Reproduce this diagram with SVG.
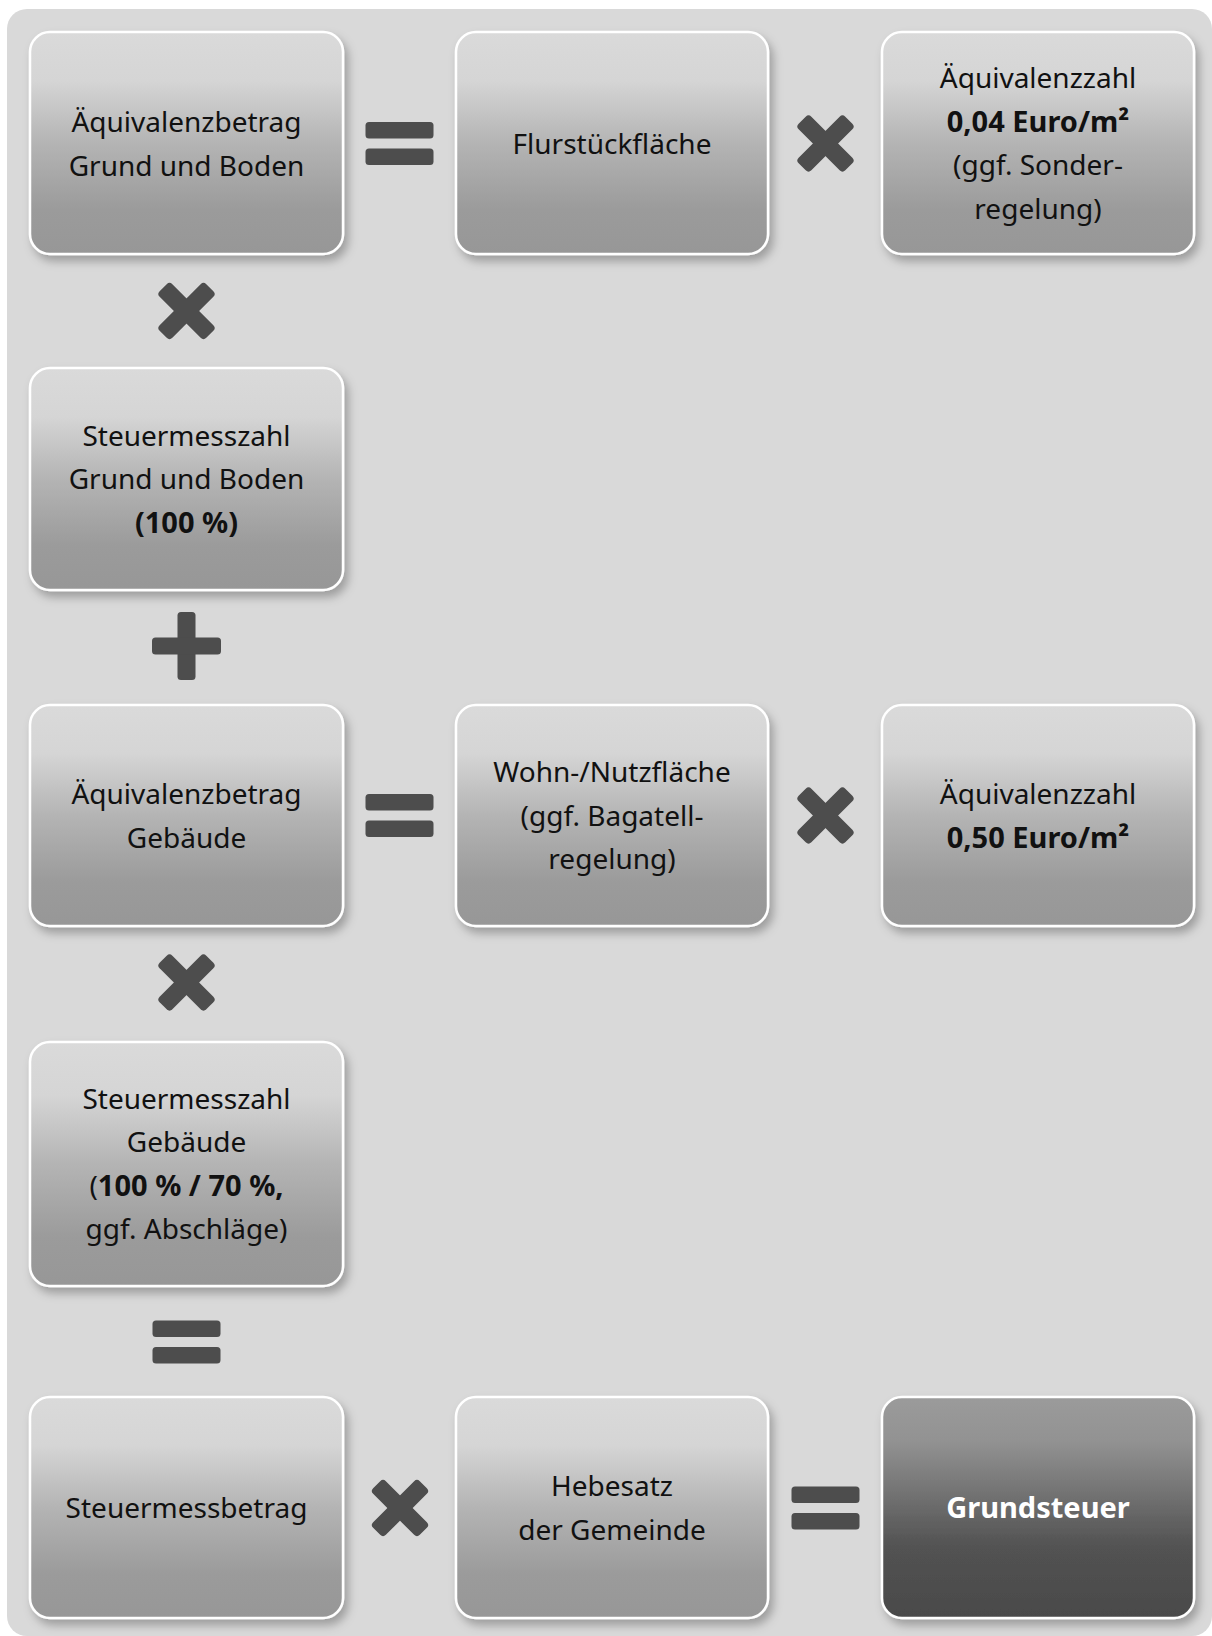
<svg xmlns="http://www.w3.org/2000/svg" width="1212" height="1636" viewBox="0 0 1212 1636">
<defs>
<linearGradient id="gBox" x1="0" y1="0" x2="0" y2="1">
<stop offset="0" stop-color="#dadada"/>
<stop offset="0.22" stop-color="#d5d5d5"/>
<stop offset="0.5" stop-color="#b4b4b4"/>
<stop offset="0.8" stop-color="#9b9b9b"/>
<stop offset="1" stop-color="#979797"/>
</linearGradient>
<linearGradient id="gDark" x1="0" y1="0" x2="0" y2="1">
<stop offset="0" stop-color="#9b9b9b"/>
<stop offset="0.2" stop-color="#929292"/>
<stop offset="0.68" stop-color="#525252"/>
<stop offset="1" stop-color="#4a4a4a"/>
</linearGradient>
<filter id="sh" x="-10%" y="-10%" width="125%" height="130%">
<feDropShadow dx="4" dy="6" stdDeviation="5" flood-color="#000" flood-opacity="0.28"/>
</filter>
<g id="xs">
<rect x="-33" y="-9" width="66" height="18" rx="4" transform="rotate(45)"/>
<rect x="-33" y="-9" width="66" height="18" rx="4" transform="rotate(-45)"/>
</g>
<g id="eq">
<rect x="-34" y="-21.5" width="68" height="16.5" rx="3.5"/>
<rect x="-34" y="5" width="68" height="16.5" rx="3.5"/>
</g>
</defs>
<style>
.box{fill:url(#gBox);stroke:#ffffff;stroke-width:2.5;filter:url(#sh)}
.dark{fill:url(#gDark);stroke:#ffffff;stroke-width:2.5;filter:url(#sh)}
text{font-family:"Noto Sans","Open Sans","Liberation Sans",sans-serif;font-size:28px;fill:#111111;text-anchor:middle}
.b{font-weight:bold;font-size:29px}
.w{fill:#ffffff;font-weight:bold;font-size:29px}
.op{fill:#4d4d4d}
</style>
<rect x="7" y="9" width="1205" height="1627" rx="20" fill="#d9d9d9"/>

<g id="n1"><rect class="box" x="30" y="32" width="313" height="222" rx="20"/>
<text x="186.5" y="132">Äquivalenzbetrag</text><text x="186.5" y="175.5">Grund und Boden</text></g>
<g id="n2"><rect class="box" x="456" y="32" width="312" height="222" rx="20"/>
<text x="612" y="153.5">Flurstückfläche</text></g>
<g id="n3"><rect class="box" x="882" y="32" width="312" height="222" rx="20"/>
<text x="1038" y="88">Äquivalenzzahl</text><text x="1038" y="131.5" class="b">0,04 Euro/m²</text><text x="1038" y="175">(ggf. Sonder-</text><text x="1038" y="218.5">regelung)</text></g>
<g id="n4"><rect class="box" x="30" y="368" width="313" height="222" rx="20"/>
<text x="186.5" y="445.5">Steuermesszahl</text><text x="186.5" y="489">Grund und Boden</text><text x="186.5" y="532.5" class="b">(100 %)</text></g>
<g id="n5"><rect class="box" x="30" y="705" width="313" height="221" rx="20"/>
<text x="186.5" y="804">Äquivalenzbetrag</text><text x="186.5" y="847.5">Gebäude</text></g>
<g id="n6"><rect class="box" x="456" y="705" width="312" height="221" rx="20"/>
<text x="612" y="782">Wohn-/Nutzfläche</text><text x="612" y="825.5">(ggf. Bagatell-</text><text x="612" y="869">regelung)</text></g>
<g id="n7"><rect class="box" x="882" y="705" width="312" height="221" rx="20"/>
<text x="1038" y="804">Äquivalenzzahl</text><text x="1038" y="847.5" class="b">0,50 Euro/m²</text></g>
<g id="n8"><rect class="box" x="30" y="1042" width="313" height="244" rx="20"/>
<text x="186.5" y="1109">Steuermesszahl</text><text x="186.5" y="1152">Gebäude</text><text x="186.5" y="1195.5">(<tspan class="b">100 % / 70 %,</tspan></text><text x="186.5" y="1239">ggf. Abschläge)</text></g>
<g id="n9"><rect class="box" x="30" y="1397" width="313" height="221" rx="20"/>
<text x="186.5" y="1517.5">Steuermessbetrag</text></g>
<g id="n10"><rect class="box" x="456" y="1397" width="312" height="221" rx="20"/>
<text x="612" y="1496">Hebesatz</text><text x="612" y="1539.5">der Gemeinde</text></g>
<g id="n11"><rect class="dark" x="882" y="1397" width="312" height="221" rx="20"/>
<text x="1038" y="1517.5" class="w">Grundsteuer</text></g>

<g id="connectors" class="op">
<use href="#eq" x="399.5" y="143.5"/>
<use href="#xs" x="825.5" y="143.5"/>
<use href="#xs" x="186.5" y="311"/>
<g transform="translate(186.5 646)"><rect x="-9" y="-34" width="18" height="68" rx="3.5"/><rect x="-34.5" y="-8.5" width="69" height="17" rx="3.5"/></g>
<use href="#eq" x="399.5" y="815.5"/>
<use href="#xs" x="825.5" y="815.5"/>
<use href="#xs" x="186.5" y="982.5"/>
<use href="#eq" x="186.5" y="1342"/>
<use href="#xs" x="400" y="1508"/>
<use href="#eq" x="825.5" y="1508"/>
</g>
</svg>
